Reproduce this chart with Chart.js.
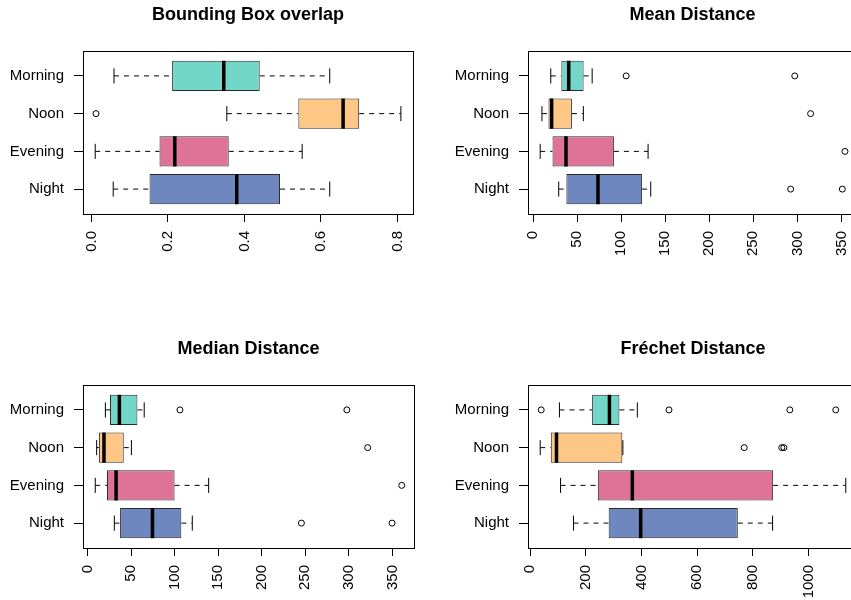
<!DOCTYPE html>
<html>
<head>
<meta charset="utf-8">
<script src="https://cdn.jsdelivr.net/npm/chart.js@4.4.1/dist/chart.umd.min.js"></script>
<style>
  html, body { margin: 0; padding: 0; background: #fff; width: 851px; height: 600px; overflow: hidden; }
  canvas { position: absolute; }
</style>
</head>
<body>
<canvas id="overlapChart" width="425" height="266" style="left:0;top:0"></canvas>
<canvas id="meanChart" width="444" height="266" style="left:425px;top:0"></canvas>
<canvas id="medianChart" width="425" height="266" style="left:0;top:334px"></canvas>
<canvas id="frechetChart" width="444" height="266" style="left:425px;top:334px"></canvas>
<script>
const groups = ['Morning', 'Noon', 'Evening', 'Night'];

// rows per group: [lower whisker, Q1, median, Q3, upper whisker]
const overlapStats = [
  [0.059, 0.211, 0.346, 0.440, 0.623],
  [0.354, 0.541, 0.658, 0.700, 0.809],
  [0.010, 0.178, 0.218, 0.359, 0.551],
  [0.057, 0.152, 0.380, 0.493, 0.623]
];
const overlapOutliers = [[], [0.012], [], []];
const overlapTicks = [0, 0.2, 0.4, 0.6, 0.8];

const meanStats = [
  [20, 32, 40.4, 57.3, 67],
  [10, 17.4, 21, 44, 57],
  [8, 22, 37.3, 91.7, 130.5],
  [29, 37.7, 73.6, 123.7, 133.5]
];
const meanOutliers = [[105.6, 297], [315], [354], [292.3, 351]];
const meanTicks = [0, 50, 100, 150, 200, 250, 300, 350];

const medianStats = [
  [20.4, 25.7, 36.5, 57.2, 65],
  [10.4, 13, 18.8, 41.5, 50.3],
  [8.8, 22.3, 32.7, 99.9, 139],
  [30.7, 37.3, 74.5, 107.6, 120.2]
];
const medianOutliers = [[106, 297.7], [321.6], [360.7], [245.5, 349.6]];
const medianTicks = [0, 50, 100, 150, 200, 250, 300, 350];

const frechetStats = [
  [105, 222.5, 284.7, 320.6, 385],
  [36, 74, 94.5, 331, 333],
  [109, 243, 367, 873, 1134],
  [155.5, 282, 397, 746, 871]
];
const frechetOutliers = [[39.5, 498.8, 933, 1098], [769, 904, 911.5], [], []];
const frechetTicks = [0, 200, 400, 600, 800, 1000];

const groupColors = ['#72D6C9', '#FFC785', '#DE7397', '#6F87BF'];
const FONT = "'Liberation Sans', Arial, Helvetica, sans-serif";

const framePlugin = {
  id: 'frame',
  afterDraw(chart) {
    const { ctx, chartArea: a } = chart;
    ctx.save();
    ctx.strokeStyle = '#000';
    ctx.lineWidth = 1;
    ctx.strokeRect(Math.round(a.left) + 0.5, Math.round(a.top) + 0.5,
      Math.round(a.right - a.left), Math.round(a.bottom - a.top));
    ctx.restore();
  }
};

// half of the box thickness in pixels
function halfBox(ctx) {
  const y = ctx.chart.scales.y;
  return Math.abs(y.getPixelForValue(1) - y.getPixelForValue(0)) * 0.4;
}

function makeBoxplot(id, title, stats, outliers, ticks, digits, yWidth) {
  const all = stats.flat().concat(outliers.flat());
  const lo = Math.min(...all), hi = Math.max(...all), pad = (hi - lo) * 0.04;
  const pos = i => i + 1;

  const whiskers = stats.flatMap((s, i) => [
    { x: s[0], y: pos(i) }, { x: s[1], y: pos(i) }, { x: null, y: null },
    { x: s[3], y: pos(i) }, { x: s[4], y: pos(i) }, { x: null, y: null }
  ]);

  new Chart(document.getElementById(id), {
    type: 'bar',
    data: {
      datasets: [
        {
          type: 'bar',
          data: stats.map((s, i) => ({ x: [s[1], s[3]], y: pos(i) })),
          backgroundColor: groupColors,
          borderColor: '#2a2a2a',
          borderWidth: 1,
          borderSkipped: false,
          barPercentage: 0.8,
          categoryPercentage: 1,
          order: 2
        },
        {
          type: 'line',
          data: whiskers,
          borderColor: '#000',
          borderWidth: 1,
          borderDash: [5, 5],
          pointRadius: 0,
          spanGaps: false,
          order: 3
        },
        {
          type: 'line',
          showLine: false,
          data: stats.flatMap((s, i) => [{ x: s[0], y: pos(i) }, { x: s[4], y: pos(i) }]),
          pointStyle: 'line',
          pointRotation: 90,
          pointRadius: ctx => halfBox(ctx) / 2,
          pointBorderColor: '#000',
          pointBorderWidth: 1,
          order: 1
        },
        {
          type: 'line',
          showLine: false,
          data: stats.map((s, i) => ({ x: s[2], y: pos(i) })),
          pointStyle: 'line',
          pointRotation: 90,
          pointRadius: halfBox,
          pointBorderColor: '#000',
          pointBorderWidth: 3.5,
          order: 0
        },
        {
          type: 'line',
          showLine: false,
          data: outliers.flatMap((arr, i) => arr.map(v => ({ x: v, y: pos(i) }))),
          pointStyle: 'circle',
          pointRadius: 3,
          pointBorderColor: '#000',
          pointBorderWidth: 1,
          pointBackgroundColor: 'rgba(0,0,0,0)',
          order: 1
        }
      ]
    },
    options: {
      indexAxis: 'y',
      responsive: false,
      animation: false,
      events: [],
      layout: { padding: { left: 0, right: 11, top: 0, bottom: 0 } },
      plugins: {
        legend: { display: false },
        tooltip: { enabled: false },
        title: {
          display: true,
          text: title,
          fullSize: false,
          color: '#000',
          font: { family: FONT, size: 18, weight: 'bold', lineHeight: 1.2 },
          padding: { top: 4, bottom: 25.4 }
        }
      },
      scales: {
        x: {
          type: 'linear',
          min: lo - pad,
          max: hi + pad,
          beginAtZero: false,
          afterBuildTicks: s => { s.ticks = ticks.map(v => ({ value: v })); },
          afterFit: s => { s.height = 52; },
          ticks: {
            autoSkip: false,
            minRotation: 90,
            maxRotation: 90,
            padding: 9,
            color: '#000',
            font: { family: FONT, size: 15 },
            callback: v => Number(v).toFixed(digits)
          },
          grid: { drawOnChartArea: false, drawTicks: true, tickLength: 8, color: '#000', offset: false },
          border: { display: false }
        },
        y: {
          type: 'linear',
          reverse: true,
          offset: false,
          min: 0.5 - 0.04 * groups.length,
          max: groups.length + 0.5 + 0.04 * groups.length,
          afterBuildTicks: s => { s.ticks = groups.map((g, i) => ({ value: pos(i) })); },
          afterFit: s => { s.width = yWidth; },
          ticks: {
            autoSkip: false,
            padding: 10,
            color: '#000',
            font: { family: FONT, size: 15 },
            callback: v => groups[Math.round(v) - 1]
          },
          grid: { drawOnChartArea: false, drawTicks: true, tickLength: 9, color: '#000', offset: false },
          border: { display: false }
        }
      }
    },
    plugins: [framePlugin]
  });
}

makeBoxplot('overlapChart', 'Bounding Box overlap', overlapStats, overlapOutliers, overlapTicks, 1, 83);
makeBoxplot('meanChart', 'Mean Distance', meanStats, meanOutliers, meanTicks, 0, 103);
makeBoxplot('medianChart', 'Median Distance', medianStats, medianOutliers, medianTicks, 0, 83);
makeBoxplot('frechetChart', 'Fréchet Distance', frechetStats, frechetOutliers, frechetTicks, 0, 103);
</script>
</body>
</html>
